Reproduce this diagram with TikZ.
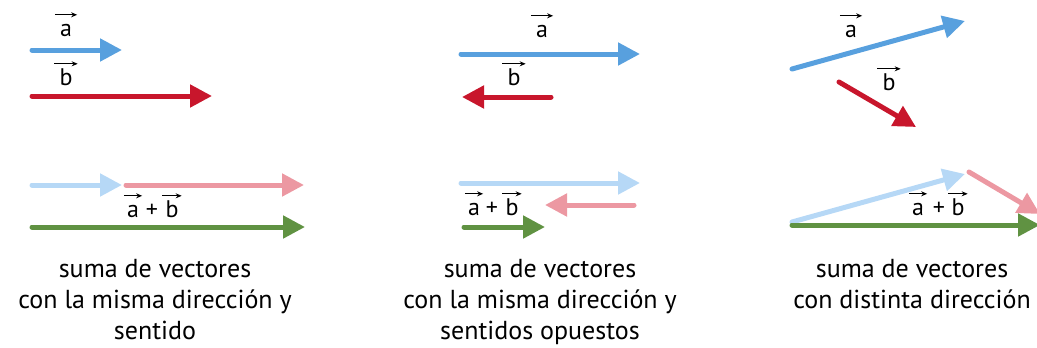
\documentclass[tikz,border=0pt]{standalone}
\usepackage{fontspec}
\setmainfont{PT Sans}
\usetikzlibrary{arrows.meta}
\definecolor{vecA}{RGB}{88,160,222}
\definecolor{vecB}{RGB}{200,22,44}
\definecolor{vecAl}{RGB}{182,216,246}
\definecolor{vecBl}{RGB}{236,152,162}
\definecolor{vecS}{RGB}{96,146,66}
\begin{document}
\begin{tikzpicture}[x=1pt,y=-1pt,
    vec/.style={line width=5pt,line cap=round,-{Triangle[length=22pt,width=22pt]}},
    lbl/.style={font=\fontsize{24}{26}\selectfont,inner xsep=5pt,inner ysep=0pt,
        text height=17pt,text depth=0pt,anchor=base},
    varr/.style={line width=1.1pt,-{Stealth[length=6pt,width=5pt]}},
    caption/.style={font=\fontsize{26}{31}\selectfont,align=center,anchor=north}]
    \useasboundingbox (0,0) rectangle (1037,348);
    % misma direccion y sentido
    \coordinate (a1s) at (32,50);  \coordinate (a1e) at (122,50);
    \coordinate (b1s) at (32,96);  \coordinate (b1e) at (212,96);
    \draw[vec,vecA] (a1s)--(a1e);
    \draw[vec,vecB] (b1s)--(b1e);
    \node[lbl] (la1) at (66,36){a};
    \node[lbl] (lb1) at (66,85){b};
    \coordinate (c1s) at (32,185); \coordinate (c1m) at (122,185); \coordinate (c1e) at (304,185);
    \coordinate (s1s) at (32,227); \coordinate (s1e) at (305,227);
    \draw[vec,vecAl] (c1s)--(c1m);
    \draw[vec,vecBl] ([xshift=4pt]c1m)--(c1e);
    \draw[vec,vecS] (s1s)--(s1e);
    \node[lbl,inner xsep=3pt] (sa1) at (133,217){a};
    \node[lbl] (sp1) at (152,217){+};
    \node[lbl,inner xsep=3pt] (sb1) at (172,217){b};
    % misma direccion y sentidos opuestos
    \coordinate (a2s) at (461,54); \coordinate (a2e) at (640,54);
    \coordinate (b2s) at (551,97); \coordinate (b2e) at (462,97);
    \draw[vec,vecA] (a2s)--(a2e);
    \draw[vec,vecB] (b2s)--(b2e);
    \node[lbl] (la2) at (542,37){a};
    \node[lbl] (lb2) at (514,85){b};
    \coordinate (c2s) at (461,183); \coordinate (c2e) at (640,183);
    \coordinate (d2s) at (634,205); \coordinate (d2e) at (545,205);
    \coordinate (s2s) at (464,227); \coordinate (s2e) at (545,227);
    \draw[vec,vecAl] (c2s)--(c2e);
    \draw[vec,vecBl] (d2s)--(d2e);
    \draw[vec,vecS] (s2s)--(s2e);
    \node[lbl,inner xsep=3pt] (sa2) at (474,215){a};
    \node[lbl] (sp2) at (492,215){+};
    \node[lbl,inner xsep=3pt] (sb2) at (512,215){b};
    % distinta direccion
    \coordinate (a3s) at (792,69); \coordinate (a3e) at (965,21);
    \coordinate (b3s) at (839,82); \coordinate (b3e) at (916,127);
    \draw[vec,vecA] (a3s)--(a3e);
    \draw[vec,vecB] (b3s)--(b3e);
    \node[lbl] (la3) at (851,37){a};
    \node[lbl] (lb3) at (889,90){b};
    \coordinate (c3s) at (792,222); \coordinate (c3e) at (965,174);
    \coordinate (d3e) at (1040,214);
    \coordinate (s3s) at (792,225); \coordinate (s3e) at (1040,225);
    \draw[vec,vecAl] (c3s)--(c3e);
    \draw[vec,vecBl] ([shift={(4pt,2pt)}]c3e)--(d3e);
    \draw[vec,vecS] (s3s)--(s3e);
    \node[lbl,inner xsep=3pt] (sa3) at (918,215){a};
    \node[lbl] (sp3) at (939,215){+};
    \node[lbl,inner xsep=3pt] (sb3) at (958,215){b};
    % flechas sobre las letras
    \foreach \n in {la1,lb1,sa1,sb1,la2,lb2,sa2,sb2,la3,lb3,sa3,sb3}
        \draw[varr] ([yshift=4pt]\n.north west)--([yshift=4pt]\n.north east);
    % textos
    \node[caption] (t1) at (155,256){suma de vectores\\con la misma dirección y\\sentido};
    \node[caption] (t2) at (540,256){suma de vectores\\con la misma dirección y\\sentidos opuestos};
    \node[caption] (t3) at (912,256){suma de vectores\\con distinta dirección};
\end{tikzpicture}
\end{document}
